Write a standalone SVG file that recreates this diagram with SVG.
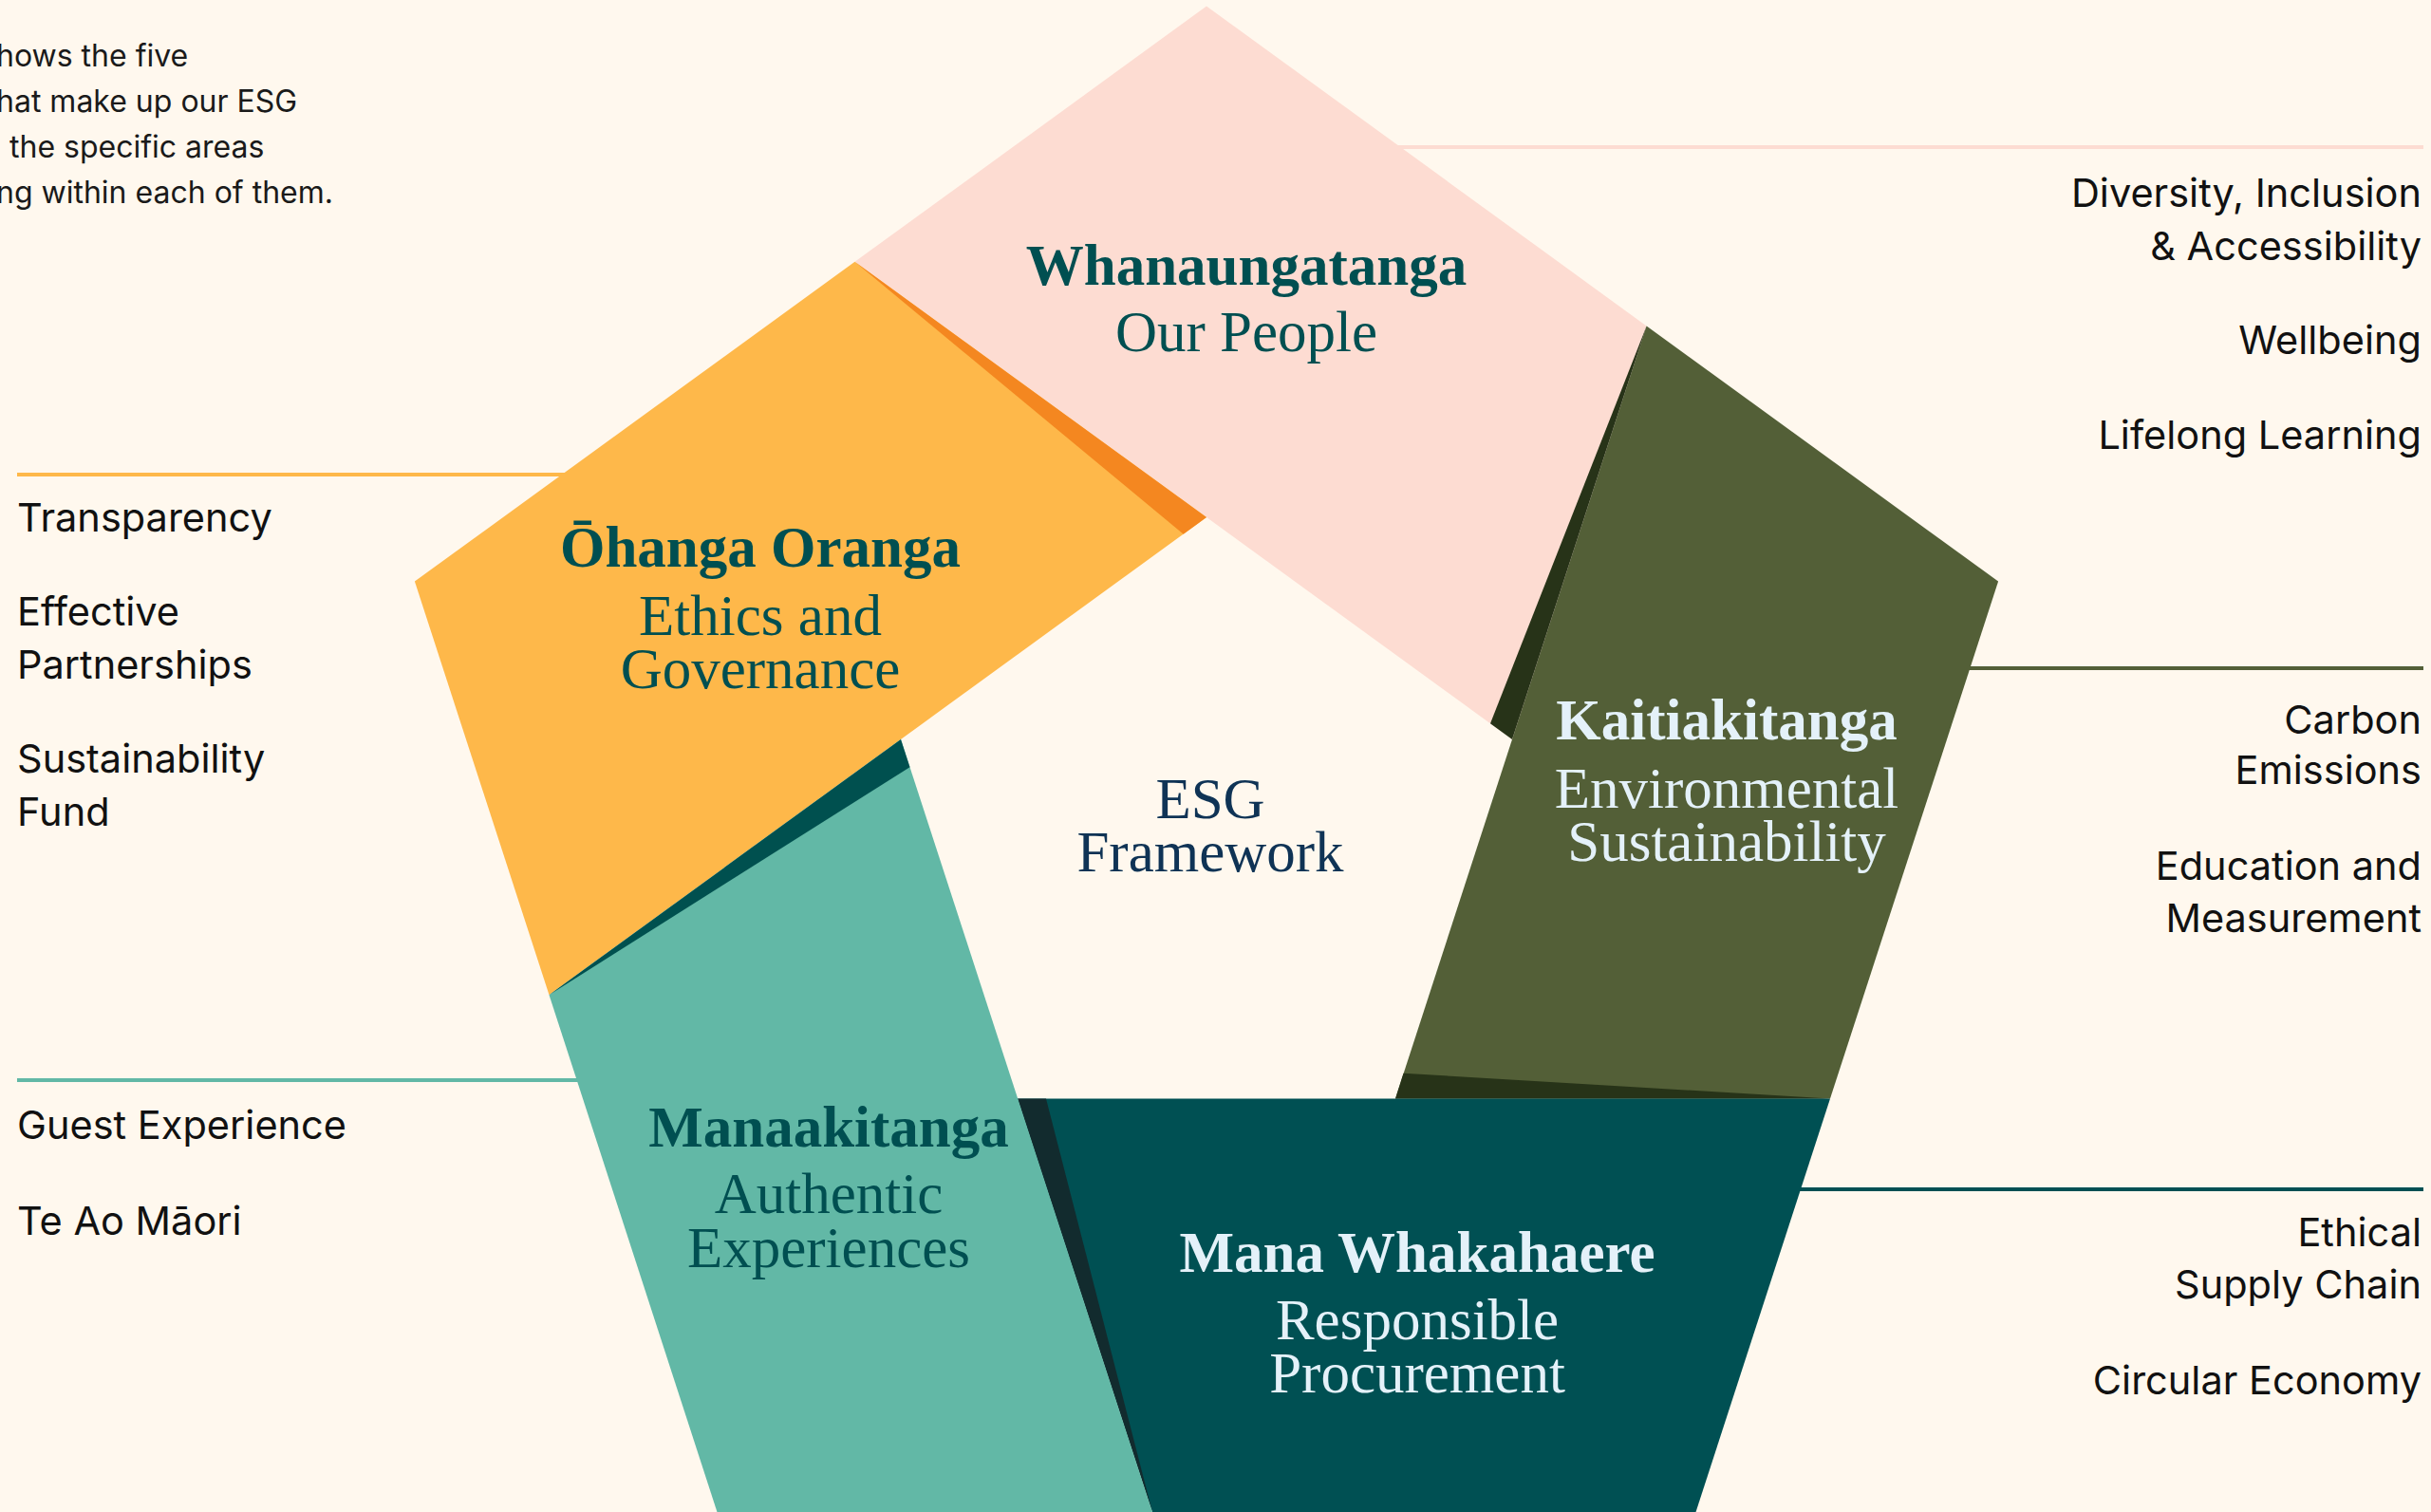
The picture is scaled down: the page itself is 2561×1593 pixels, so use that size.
<svg xmlns="http://www.w3.org/2000/svg" width="2561" height="1593" viewBox="0 0 2561 1593">
<style>
.bg{fill:#FFF8EE}
.lead{stroke-width:4;fill:none}
.title{font-family:"Liberation Serif","DejaVu Serif",serif;font-weight:bold;font-size:61px;text-anchor:middle}
.sub{font-family:"Liberation Serif","DejaVu Serif",serif;font-size:61px;text-anchor:middle}
.item{font-family:Inter,"Liberation Sans",sans-serif;font-size:41.5px;fill:#111111}
.r{text-anchor:end}
.para{font-family:Inter,"Liberation Sans",sans-serif;font-size:32px;fill:#1A1A1A}
.teal{fill:#004F51}
.light{fill:#E4F1F9}
</style>
<rect class="bg" x="0" y="0" width="2561" height="1593"/>
<g id="intro">
<text class="para" x="-4" y="70">hows the five</text>
<text class="para" x="-4" y="118">hat make up our ESG</text>
<text class="para" x="10" y="166">the specific areas</text>
<text class="para" x="-4" y="214">ng within each of them.</text>
</g>
<g id="connectors">
<line class="lead" x1="1400" y1="155" x2="2553" y2="155" stroke="#FDDCD2"/>
<line class="lead" x1="18" y1="500" x2="650" y2="500" stroke="#FEB84A"/>
<line class="lead" x1="2000" y1="704" x2="2553" y2="704" stroke="#535F37"/>
<line class="lead" x1="18" y1="1138" x2="680" y2="1138" stroke="#62B8A6"/>
<line class="lead" x1="1800" y1="1253" x2="2553" y2="1253" stroke="#005053"/>
</g>
<g id="whanaungatanga">
<polygon points="900.5,275.8 1271,6.6 1734.6,343.4 1593,779" fill="#FDDCD2"/>
<text class="title teal" x="1313" y="300" font-size="62">Whanaungatanga</text>
<text class="sub teal" x="1313" y="370">Our People</text>
<text class="item r" x="2551" y="218">Diversity, Inclusion</text>
<text class="item r" x="2551" y="274">&amp; Accessibility</text>
<text class="item r" x="2551" y="373">Wellbeing</text>
<text class="item r" x="2551" y="473">Lifelong Learning</text>
</g>
<g id="ohanga-oranga">
<polygon points="578.5,1048.2 436.9,612.6 900.5,275.8 1271,545" fill="#FEB84A"/>
<polygon points="900.5,275.8 1271,545 1246.7,562.7" fill="#F48720"/>
<text class="title teal" x="801" y="597">Ōhanga Oranga</text>
<text class="sub teal" x="801" y="669">Ethics and</text>
<text class="sub teal" x="801" y="725">Governance</text>
<text class="item" x="18" y="560">Transparency</text>
<text class="item" x="18" y="659">Effective</text>
<text class="item" x="18" y="715">Partnerships</text>
<text class="item" x="18" y="814">Sustainability</text>
<text class="item" x="18" y="870">Fund</text>
</g>
<g id="kaitiakitanga">
<polygon points="1734.6,343.4 2105.1,612.6 1928,1157.5 1470,1157.5" fill="#535F37"/>
<polygon points="1734.6,343.4 1593,779 1570,762.3" fill="#273318"/>
<polygon points="1478.5,1130.7 1928,1157.5 1470,1157.5" fill="#273318"/>
<text class="title light" x="1819" y="779">Kaitiakitanga</text>
<text class="sub light" x="1819" y="851">Environmental</text>
<text class="sub light" x="1819" y="907">Sustainability</text>
<text class="item r" x="2551" y="773">Carbon</text>
<text class="item r" x="2551" y="826">Emissions</text>
<text class="item r" x="2551" y="927">Education and</text>
<text class="item r" x="2551" y="982">Measurement</text>
</g>
<g id="mana-whakahaere">
<polygon points="1928,1157.5 1786.5,1593.1 1214,1593.1 1072,1157.5" fill="#005053"/>
<polygon points="1072,1157.5 1102,1157.5 1214,1593.1" fill="#122B2E"/>
<text class="title light" x="1493" y="1340">Mana Whakahaere</text>
<text class="sub light" x="1493" y="1411">Responsible</text>
<text class="sub light" x="1493" y="1467">Procurement</text>
<text class="item r" x="2551" y="1313">Ethical</text>
<text class="item r" x="2551" y="1368">Supply Chain</text>
<text class="item r" x="2551" y="1469">Circular Economy</text>
</g>
<g id="manaakitanga">
<polygon points="1214,1593.1 755.5,1593.1 578.5,1048.2 949,779" fill="#62B8A6"/>
<polygon points="578.5,1048.2 949,779 958.5,808.3" fill="#00504F"/>
<text class="title teal" x="873" y="1208">Manaakitanga</text>
<text class="sub teal" x="873" y="1278">Authentic</text>
<text class="sub teal" x="873" y="1335">Experiences</text>
<text class="item" x="18" y="1200">Guest Experience</text>
<text class="item" x="18" y="1301">Te Ao Māori</text>
</g>
<g id="esg-framework">
<text class="sub" x="1275" y="862" fill="#0F3355" font-size="62">ESG</text>
<text class="sub" x="1275" y="918" fill="#0F3355" font-size="62">Framework</text>
</g>
</svg>
